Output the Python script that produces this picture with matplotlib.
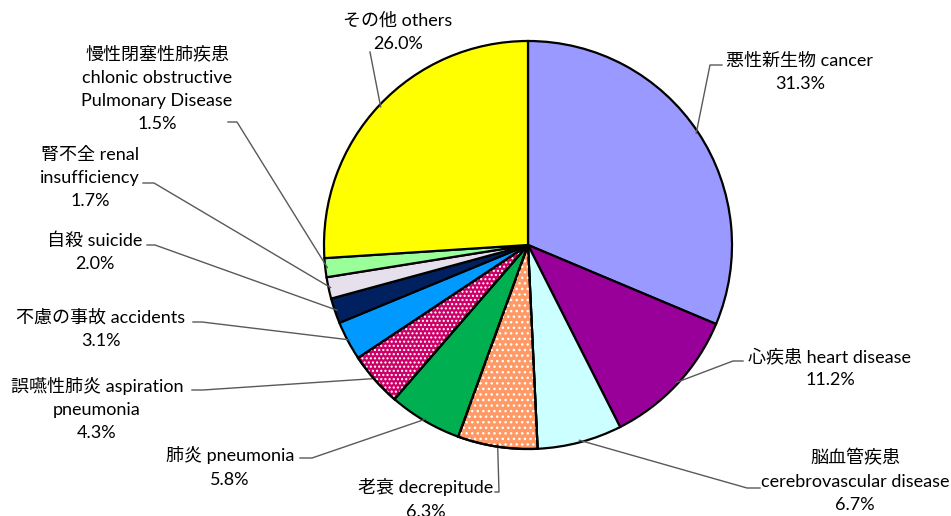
import numpy as np
import matplotlib.pyplot as plt
from matplotlib.patches import Wedge

plt.rcParams['font.family'] = ['Lato', 'Noto Sans CJK JP']

# data, clockwise from 12 o'clock
names = ['悪性新生物 cancer', '心疾患 heart disease',
         '脳血管疾患\ncerebrovascular disease', '老衰 decrepitude',
         '肺炎 pneumonia', '誤嚥性肺炎 aspiration\npneumonia',
         '不慮の事故 accidents', '自殺 suicide', '腎不全 renal\ninsufficiency',
         '慢性閉塞性肺疾患\nchlonic obstructive\nPulmonary Disease', 'その他 others']
values = [31.3, 11.2, 6.7, 6.3, 5.8, 4.3, 3.1, 2.0, 1.7, 1.5, 26.0]
colors = ['#9999FF', '#990099', '#CCFFFF', '#FF9966', '#00B050', '#CC0066',
          '#0099FF', '#002060', '#E6E0EC', '#99FF99', '#FFFF00']
hatches = [None, None, None, '...', None, '....', None, None, None, None, None]

# label layout in pixels from top-left: text centre, leader elbow points
H = 516
text_pos = [(800, 72), (830, 368), (855, 481), (426, 499), (230, 467),
            (97, 409), (101, 329), (95, 252), (90, 178), (157, 89), (398, 32)]
elbows = [[(722, 65), (710, 65)],
          [(743, 361), (733, 361)],
          [(760, 488), (747, 488)],
          [(495, 492), (499, 492)],
          [(300, 458), (312, 458)],
          [(192, 390), (203, 390)],
          [(193, 322), (202, 322)],
          [(147, 245), (155, 245)],
          [(143, 183), (154, 183)],
          [(228, 122), (237, 122)],
          [(370, 52)]]

fig = plt.figure(figsize=(9.51, 5.16), dpi=100)
ax = fig.add_axes([0, 0, 1, 1])

cx, cy, r = 528, H - 245, 204
wedges, _ = ax.pie(values, colors=colors, startangle=90, counterclock=False,
                   center=(cx, cy), radius=r,
                   wedgeprops=dict(edgecolor='black', linewidth=1.6))

for w, h in zip(wedges, hatches):
    if h is None:
        continue
    ax.add_patch(Wedge(w.center, w.r, w.theta1, w.theta2, facecolor='none',
                       edgecolor='white', linewidth=0, hatch=h, zorder=w.get_zorder() + 0.1))
    ax.add_patch(Wedge(w.center, w.r, w.theta1, w.theta2, facecolor='none',
                       edgecolor='black', linewidth=1.6, zorder=w.get_zorder() + 0.2))

for w, name, v, (tx, ty), pts in zip(wedges, names, values, text_pos, elbows):
    ang = np.deg2rad((w.theta1 + w.theta2) / 2)
    ax_, ay_ = cx + 0.99 * r * np.cos(ang), cy + 0.99 * r * np.sin(ang)
    xs = [p[0] for p in pts] + [ax_]
    ys = [H - p[1] for p in pts] + [ay_]
    ax.plot(xs, ys, color='#595959', lw=1.0, zorder=1)
    ax.text(tx, H - ty, f'{name}\n{v:.1f}%', ha='center', va='center',
            fontsize=13, linespacing=1.55, color='black')

ax.set_xlim(0, 951)
ax.set_ylim(0, H)
ax.set_aspect('equal')
ax.axis('off')

fig.savefig('out.png', dpi=100)
